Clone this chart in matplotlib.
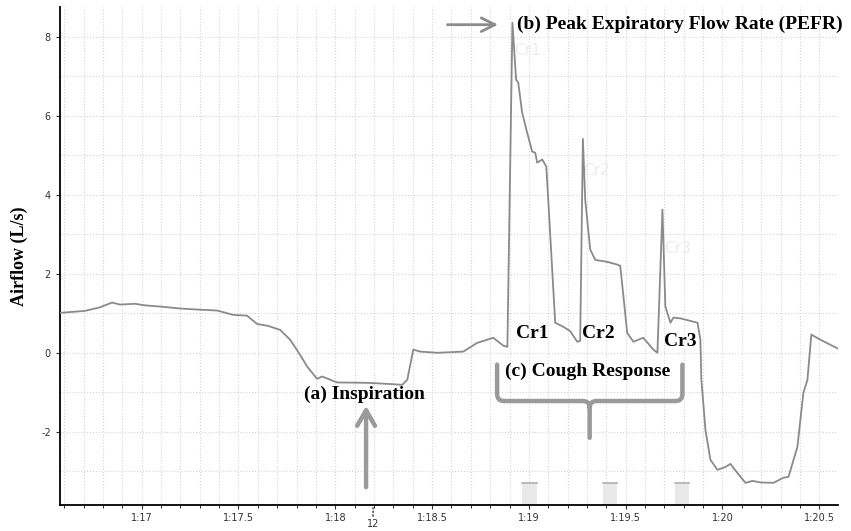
import matplotlib.pyplot as plt
from matplotlib.path import Path
from matplotlib.patches import PathPatch
from matplotlib.ticker import MultipleLocator

plt.rcParams["axes.unicode_minus"] = False

# airflow trace (time in s after 1:00, flow in L/s)
time_s = [76.578, 76.655, 76.707, 76.784, 76.847, 76.888, 76.965, 77.017, 77.095,
          77.198, 77.301, 77.389, 77.472, 77.544, 77.596, 77.653, 77.715, 77.767,
          77.818, 77.855, 77.906, 77.932, 78.009, 78.165, 78.284, 78.346, 78.372,
          78.403, 78.439, 78.527, 78.661, 78.733, 78.816, 78.868, 78.889, 78.915,
          78.934, 78.945, 78.965, 78.991, 79.017, 79.033, 79.043, 79.069, 79.090,
          79.100, 79.136, 79.177, 79.213, 79.250, 79.265, 79.279, 79.291, 79.317,
          79.343, 79.405, 79.457, 79.472, 79.508, 79.540, 79.591, 79.643, 79.664,
          79.690, 79.705, 79.731, 79.747, 79.783, 79.871, 79.886, 79.891, 79.912,
          79.938, 79.974, 80.015, 80.041, 80.077, 80.119, 80.155, 80.196, 80.263,
          80.315, 80.341, 80.387, 80.418, 80.439, 80.459, 80.506, 80.599]
flow = [1.01, 1.04, 1.06, 1.15, 1.27, 1.22, 1.24, 1.20, 1.17,
        1.12, 1.09, 1.07, 0.96, 0.94, 0.73, 0.68, 0.58, 0.33,
        -0.05, -0.35, -0.66, -0.60, -0.75, -0.76, -0.79, -0.81, -0.68,
        0.08, 0.03, 0.00, 0.03, 0.25, 0.38, 0.18, 0.15, 8.35,
        6.91, 6.84, 6.08, 5.57, 5.09, 5.06, 4.81, 4.89, 4.71,
        3.87, 0.76, 0.66, 0.55, 0.28, 0.30, 5.41, 3.87, 2.61,
        2.35, 2.30, 2.23, 2.20, 0.50, 0.28, 0.38, 0.08, 0.00,
        3.62, 1.17, 0.76, 0.89, 0.87, 0.76, 0.33, -0.68, -1.95,
        -2.71, -2.96, -2.89, -2.81, -3.04, -3.29, -3.24, -3.28, -3.29,
        -3.16, -3.14, -2.38, -1.01, -0.68, 0.46, 0.33, 0.10]

x_ticks = [77, 77.5, 78, 78.5, 79, 79.5, 80, 80.5]
x_labels = ["1:17", "1:17.5", "1:18", "1:18.5", "1:19", "1:19.5", "1:20", "1:20.5"]
y_ticks = [-2, 0, 2, 4, 6, 8]

# grey event markers along the bottom
event_start = [78.965, 79.384, 79.756]
event_end = [79.043, 79.456, 79.828]
event_top = -3.29

serif = "Liberation Serif"
grey = "#8a8a8a"

fig, ax = plt.subplots(figsize=(8.51, 5.31), dpi=100)
fig.subplots_adjust(left=0.0705, right=0.985, bottom=0.049, top=0.987)

ax.set_xlim(76.578, 80.598)
ax.set_ylim(-3.85, 8.75)

# grid
ax.xaxis.set_minor_locator(MultipleLocator(0.1))
ax.yaxis.set_minor_locator(MultipleLocator(1))
ax.grid(which="both", color="#d4d4d4", linestyle=":", linewidth=0.8)
ax.set_axisbelow(True)

ymin = ax.get_ylim()[0]
for s, e in zip(event_start, event_end):
    ax.bar(s, event_top - ymin, width=e - s, bottom=ymin, align="edge",
           color="#e9e9e9", edgecolor="none", zorder=1)
    ax.plot([s, e], [event_top, event_top], color="#b0b0b0", lw=1.2, zorder=1)

ax.plot(time_s, flow, color=grey, lw=1.3, zorder=3)

# axes styling
for side in ["top", "right"]:
    ax.spines[side].set_visible(False)
ax.spines["left"].set_linewidth(1.3)
ax.spines["bottom"].set_linewidth(1.3)
ax.set_xticks(x_ticks)
ax.set_xticklabels(x_labels)
ax.set_yticks(y_ticks)
ax.tick_params(axis="both", which="major", labelsize=7, colors="#333333", length=3)
ax.tick_params(axis="x", which="minor", length=2)
ax.tick_params(axis="y", which="minor", length=0)
ax.tick_params(axis="x", pad=3)
ax.set_ylabel("Airflow (L/s)", fontfamily=serif, fontweight="bold", fontsize=13)
ax.yaxis.set_label_coords(-0.041, 0.5)

# cursor marker "12" below the axis
ax.annotate("", xy=(78.195, 0), xycoords=("data", "axes fraction"),
            xytext=(78.195, -0.028), textcoords=("data", "axes fraction"),
            arrowprops=dict(arrowstyle="-", linestyle=":", color="#333333", lw=1))
ax.text(78.195, -0.038, "12", transform=ax.get_xaxis_transform(),
        ha="center", va="center", fontsize=7, color="#333333", clip_on=False)

# faint channel labels
for tx, ty, lab in [(78.99, 7.65, "Cr1"), (79.35, 4.6, "Cr2"), (79.77, 2.65, "Cr3")]:
    ax.text(tx, ty, lab, fontsize=11, color="#ececec", ha="center", va="center", zorder=2)

# bold labels
bold = dict(fontfamily=serif, fontweight="bold", fontsize=14, color="black", zorder=5)
ax.text(78.94, 8.3, "(b) Peak Expiratory Flow Rate (PEFR)", ha="left", va="center", **bold)
ax.text(79.017, 0.5, "Cr1", ha="center", va="center", **bold)
ax.text(79.358, 0.5, "Cr2", ha="center", va="center", **bold)
ax.text(79.78, 0.28, "Cr3", ha="center", va="center", **bold)
ax.text(79.304, -0.48, "(c) Cough Response", ha="center", va="center", **bold)
ax.text(78.149, -1.06, "(a) Inspiration", ha="center", va="center", **bold)

# arrows
ax.annotate("", xy=(78.855, 8.3), xytext=(78.565, 8.3),
            arrowprops=dict(arrowstyle="->,head_width=0.35,head_length=0.7",
                            color="#8c8c8c", lw=2, mutation_scale=14))
ax.annotate("", xy=(78.159, -1.27), xytext=(78.159, -3.47),
            arrowprops=dict(arrowstyle="->,head_width=0.4,head_length=0.7",
                            color="#9a9a9a", lw=3.2, mutation_scale=16))

# curly brace under the cough response
xl, xr, xc = 78.836, 79.793, 79.314
ytop, ybar, ytip = -0.30, -1.22, -2.15
rx, ry = 0.035, 0.18
verts = [(xl, ytop), (xl, ybar + ry), (xl, ybar), (xl + rx, ybar),
         (xc - rx, ybar), (xc, ybar), (xc, ybar - ry), (xc, ytip),
         (xc, ybar - ry), (xc, ybar), (xc + rx, ybar),
         (xr - rx, ybar), (xr, ybar), (xr, ybar + ry), (xr, ytop)]
codes = [Path.MOVETO, Path.LINETO, Path.CURVE3, Path.CURVE3,
         Path.LINETO, Path.CURVE3, Path.CURVE3, Path.LINETO,
         Path.MOVETO, Path.CURVE3, Path.CURVE3,
         Path.LINETO, Path.CURVE3, Path.CURVE3, Path.LINETO]
ax.add_patch(PathPatch(Path(verts, codes), facecolor="none", edgecolor="#9a9a9a",
                       lw=3.2, capstyle="round", joinstyle="round", zorder=4))

fig.savefig("out.png", dpi=100)
